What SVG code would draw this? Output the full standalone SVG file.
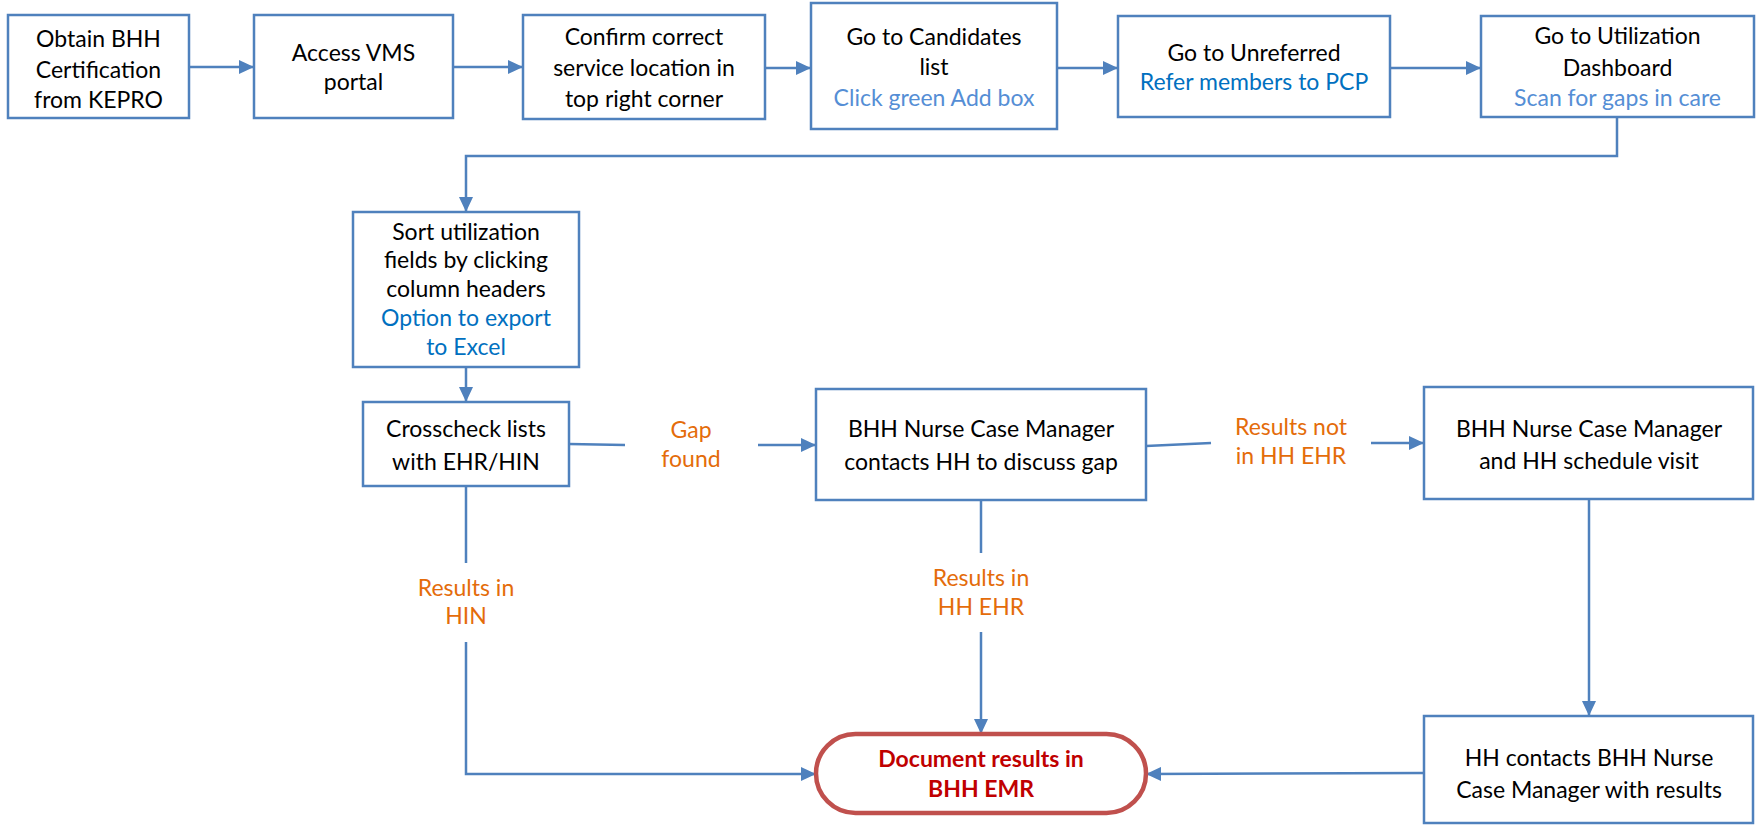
<svg xmlns="http://www.w3.org/2000/svg" width="1756" height="827" viewBox="0 0 1756 827">
  <style>
    .box { fill: #ffffff; stroke: #4F81BD; stroke-width: 2.5; }
    .term { fill: #ffffff; stroke: #C0504D; stroke-width: 4.5; }
    .edge { fill: none; stroke: #4F81BD; stroke-width: 2.5; }
    text { font-family: Lato, "Liberation Sans", sans-serif; font-size: 23px; text-anchor: middle; fill: #000000; }
    .blue { fill: #0070C0; }
    .lblue { fill: #558ED5; }
    .orange { fill: #E46C0A; }
    .red { fill: #C00000; font-weight: bold; }
  </style>
  <defs>
    <marker id="arrow" viewBox="0 0 15 14" refX="15" refY="7" markerWidth="15" markerHeight="14" markerUnits="userSpaceOnUse" orient="auto">
      <path d="M0,0 L15,7 L0,14 z" fill="#4F81BD"/>
    </marker>
  </defs>

  <!-- connectors -->
  <g id="connectors">
    <line class="edge" x1="189" y1="67" x2="254" y2="67" marker-end="url(#arrow)"/>
    <line class="edge" x1="453" y1="67" x2="523" y2="67" marker-end="url(#arrow)"/>
    <line class="edge" x1="765" y1="68" x2="811" y2="68" marker-end="url(#arrow)"/>
    <line class="edge" x1="1057" y1="68" x2="1118" y2="68" marker-end="url(#arrow)"/>
    <line class="edge" x1="1390" y1="68" x2="1481" y2="68" marker-end="url(#arrow)"/>
    <polyline class="edge" points="1617,117 1617,156 466,156 466,212" marker-end="url(#arrow)"/>
    <line class="edge" x1="466" y1="367" x2="466" y2="402" marker-end="url(#arrow)"/>
    <!-- gap found -->
    <line class="edge" x1="569" y1="444" x2="625" y2="445"/>
    <line class="edge" x1="758" y1="445" x2="816" y2="445" marker-end="url(#arrow)"/>
    <text class="orange" x="691" y="438">Gap</text>
    <text class="orange" x="691" y="467">found</text>
    <!-- results not in HH EHR -->
    <line class="edge" x1="1146" y1="446" x2="1211" y2="443"/>
    <line class="edge" x1="1371" y1="443" x2="1424" y2="443" marker-end="url(#arrow)"/>
    <text class="orange" x="1291" y="435">Results not</text>
    <text class="orange" x="1291" y="464">in HH EHR</text>
    <!-- schedule visit to HH contacts -->
    <line class="edge" x1="1589" y1="499" x2="1589" y2="716" marker-end="url(#arrow)"/>
    <!-- HH contacts to document -->
    <line class="edge" x1="1424" y1="773" x2="1146" y2="774" marker-end="url(#arrow)"/>
    <!-- results in HIN -->
    <line class="edge" x1="466" y1="486" x2="466" y2="563"/>
    <polyline class="edge" points="466,642 466,774 816,774" marker-end="url(#arrow)"/>
    <text class="orange" x="466" y="596">Results in</text>
    <text class="orange" x="466" y="624">HIN</text>
    <!-- results in HH EHR -->
    <line class="edge" x1="981" y1="500" x2="981" y2="553"/>
    <line class="edge" x1="981" y1="632" x2="981" y2="734" marker-end="url(#arrow)"/>
    <text class="orange" x="981" y="586">Results in</text>
    <text class="orange" x="981" y="615">HH EHR</text>
  </g>

  <g id="obtain">
    <rect class="box" x="8" y="15" width="181" height="103"/>
    <text x="98.5" y="47">Obtain BHH</text>
    <text x="98.5" y="78">Certification</text>
    <text x="98.5" y="108">from KEPRO</text>
  </g>
  <g id="access">
    <rect class="box" x="254" y="15" width="199" height="103"/>
    <text x="353.5" y="61">Access VMS</text>
    <text x="353.5" y="90">portal</text>
  </g>
  <g id="confirm">
    <rect class="box" x="523" y="15" width="242" height="104"/>
    <text x="644" y="45">Confirm correct</text>
    <text x="644" y="76">service location in</text>
    <text x="644" y="107">top right corner</text>
  </g>
  <g id="candidates">
    <rect class="box" x="811" y="3" width="246" height="126"/>
    <text x="934" y="45">Go to Candidates</text>
    <text x="934" y="75">list</text>
    <text class="lblue" x="934" y="106">Click green Add box</text>
  </g>
  <g id="unreferred">
    <rect class="box" x="1118" y="16" width="272" height="101"/>
    <text x="1254" y="61">Go to Unreferred</text>
    <text class="blue" x="1254" y="90">Refer members to PCP</text>
  </g>
  <g id="dashboard">
    <rect class="box" x="1481" y="16" width="273" height="101"/>
    <text x="1617.5" y="44">Go to Utilization</text>
    <text x="1617.5" y="76">Dashboard</text>
    <text class="lblue" x="1617.5" y="106">Scan for gaps in care</text>
  </g>
  <g id="sort">
    <rect class="box" x="353" y="212" width="226" height="155"/>
    <text x="466" y="240">Sort utilization</text>
    <text x="466" y="268">fields by clicking</text>
    <text x="466" y="297">column headers</text>
    <text class="blue" x="466" y="326">Option to export</text>
    <text class="blue" x="466" y="355">to Excel</text>
  </g>
  <g id="crosscheck">
    <rect class="box" x="363" y="402" width="206" height="84"/>
    <text x="466" y="437">Crosscheck lists</text>
    <text x="466" y="470">with EHR/HIN</text>
  </g>
  <g id="nurse-contacts">
    <rect class="box" x="816" y="389" width="330" height="111"/>
    <text x="981" y="437">BHH Nurse Case Manager</text>
    <text x="981" y="470">contacts HH to discuss gap</text>
  </g>
  <g id="schedule">
    <rect class="box" x="1424" y="387" width="329" height="112"/>
    <text x="1589" y="437">BHH Nurse Case Manager</text>
    <text x="1589" y="469">and HH schedule visit</text>
  </g>
  <g id="hh-contacts">
    <rect class="box" x="1424" y="716" width="329" height="107"/>
    <text x="1589" y="766">HH contacts BHH Nurse</text>
    <text x="1589" y="798">Case Manager with results</text>
  </g>
  <g id="document">
    <rect class="term" x="816" y="734" width="330" height="79" rx="39.5" ry="39.5"/>
    <text class="red" x="981" y="767">Document results in</text>
    <text class="red" x="981" y="797">BHH EMR</text>
  </g>
</svg>
